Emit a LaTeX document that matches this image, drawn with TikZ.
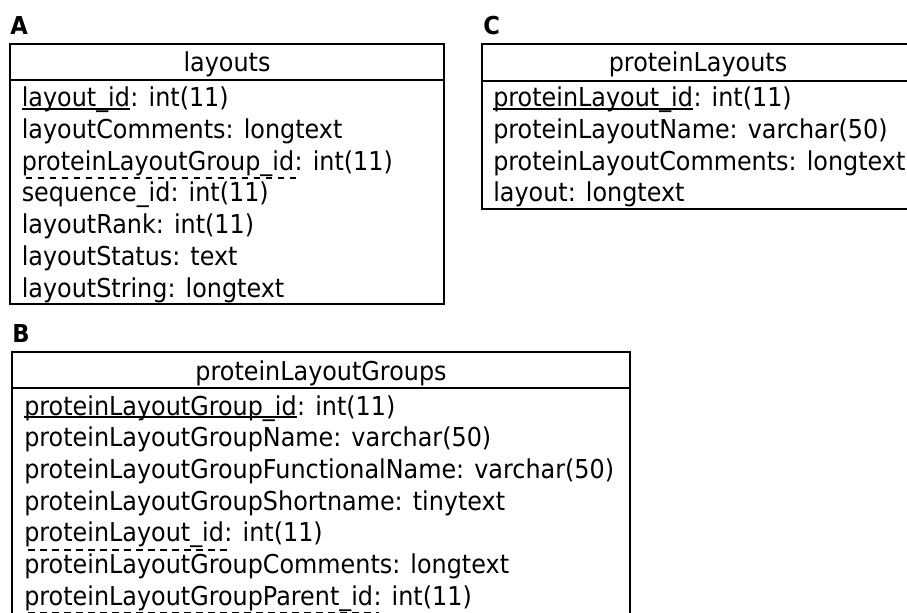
\documentclass[tikz,border=0pt]{standalone}
\usepackage{fontspec}
\setmainfont{DejaVu Sans}[FakeStretch=0.918]
\usepackage{tikz}
\usetikzlibrary{positioning}

\begin{document}
\begin{tikzpicture}[x=0.75pt,y=-0.75pt,
  every node/.style={inner sep=0pt, font=\fontsize{19.5pt}{23.75pt}\selectfont},
  tbl/.style={draw, line width=1.6pt},
  row/.style={anchor=base west},
  head/.style={anchor=base},
  tag/.style={anchor=base west, font=\fontsize{18.5pt}{20pt}\selectfont\bfseries},
  pkline/.style={line width=1.2pt},
  fkline/.style={line width=1.5pt, dash pattern=on 5pt off 4pt}]
  \clip (0,0) rectangle (907,613);

  % A: layouts
  \node[tag] (tagA) at (10,35) {A};
  \draw[tbl] (10,44) rectangle (444,304);
  \draw[tbl] (10,80) -- (444,80);
  \node[head] (layouts) at (227,72) {layouts};
  \node[row] (A1n) at (21.5,107) {layout\_id};
  \node[row, base right=0pt of A1n] (A1t) {: int(11)};
  \node[row] (A2) at (21.5,138.7) {layoutComments: longtext};
  \node[row] (A3n) at (21.5,170.3) {proteinLayoutGroup\_id};
  \node[row, base right=0pt of A3n] (A3t) {: int(11)};
  \node[row] (A4) at (21.5,202) {sequence\_id: int(11)};
  \node[row] (A5) at (21.5,233.7) {layoutRank: int(11)};
  \node[row] (A6) at (21.5,265.3) {layoutStatus: text};
  \node[row] (A7) at (21.5,297) {layoutString: longtext};
  \draw[pkline] ([yshift=-1.5pt]A1n.base west) -- ([yshift=-1.5pt]A1n.base east);
  \draw[fkline] ([yshift=-6pt,xshift=3pt]A3n.base west) -- ([yshift=-6pt,xshift=4pt]A3n.base east);

  % C: proteinLayouts
  \node[tag] (tagC) at (483,35) {C};
  \draw[tbl] (482,44) rectangle (914,209);
  \draw[tbl] (482,81) -- (914,81);
  \node[head] (proteinLayouts) at (698,72) {proteinLayouts};
  \node[row] (C1n) at (493,107) {proteinLayout\_id};
  \node[row, base right=0pt of C1n] (C1t) {: int(11)};
  \node[row] (C2) at (493,138.7) {proteinLayoutName: varchar(50)};
  \node[row] (C3) at (493,170.3) {proteinLayoutComments: longtext};
  \node[row] (C4) at (493,202) {layout: longtext};
  \draw[pkline] ([yshift=-1.5pt]C1n.base west) -- ([yshift=-1.5pt]C1n.base east);

  % B: proteinLayoutGroups
  \node[tag] (tagB) at (12,342) {B};
  \draw[tbl] (12,640) -- (12,352) -- (630,352) -- (630,640);
  \draw[tbl] (12,388) -- (630,388);
  \node[head] (proteinLayoutGroups) at (321,380) {proteinLayoutGroups};
  \node[row] (B1n) at (24,415) {proteinLayoutGroup\_id};
  \node[row, base right=0pt of B1n] (B1t) {: int(11)};
  \node[row] (B2) at (24,446.7) {proteinLayoutGroupName: varchar(50)};
  \node[row] (B3) at (24,478.3) {proteinLayoutGroupFunctionalName: varchar(50)};
  \node[row] (B4) at (24,510) {proteinLayoutGroupShortname: tinytext};
  \node[row] (B5n) at (24,541.7) {proteinLayout\_id};
  \node[row, base right=0pt of B5n] (B5t) {: int(11)};
  \node[row] (B6) at (24,573.3) {proteinLayoutGroupComments: longtext};
  \node[row] (B7n) at (24,605) {proteinLayoutGroupParent\_id};
  \node[row, base right=0pt of B7n] (B7t) {: int(11)};
  \draw[pkline] ([yshift=-1.5pt]B1n.base west) -- ([yshift=-1.5pt]B1n.base east);
  \draw[fkline] ([yshift=-6pt,xshift=3pt]B5n.base west) -- ([yshift=-6pt,xshift=4pt]B5n.base east);
  \draw[fkline] ([yshift=-6pt,xshift=3pt]B7n.base west) -- ([yshift=-6pt,xshift=4pt]B7n.base east);
\end{tikzpicture}
\end{document}
